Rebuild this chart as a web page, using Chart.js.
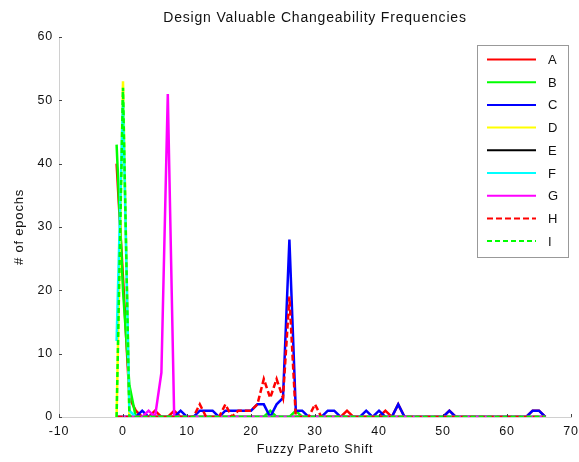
<!DOCTYPE html>
<html><head><meta charset="utf-8">
<script src="https://cdn.jsdelivr.net/npm/chart.js@4/dist/chart.umd.min.js"></script>
<style>html,body{margin:0;padding:0;background:#fff;}#wrap{width:579px;height:462px;}</style>
</head><body><div id="wrap"><canvas id="c" width="579" height="462"></canvas></div>
<script>
// x positions (Fuzzy Pareto Shift)
const xValues = [-1,0,1,2,3,4,5,6,7,8, 9,10,11,12,13,14,15,16,17,18, 19,20,21,22,23,24,25,26,27,28,
  29,30,31,32,33,34,35,36,37,38, 39,40,41,42,43,44,45,46,47,48, 49,50,51,52,53,54,55,56,57,58, 59,60,61,62,63,64,65,66];
const seriesA = [40,22,3,1,0,0,1,0,0,1, 0,0,0,0,0,0,0,0,0,0, 0,0,0,0,0,0,0,0,0,0,
  0,0,0,0,0,0,1,0,0,0, 0,0,1,0,2,0,0,0,0,0, 0,0,1,0,0,0,0,0,0,0, 0,0,0,0,0,1,1,0];
const seriesB = [43,20,5,0,0,0,0,0,0,0, 0,0,0,0,0,0,0,0,0,0, 0,0,0,0,1,0,0,0,1,0,
  0,0,0,0,0,0,0,0,0,0, 0,0,0,0,0,0,0,0,0,0, 0,0,0,0,0,0,0,0,0,0, 0,0,0,0,0,0,0,0];
const seriesC = [0,0,0,0,1,0,0,0,0,0, 1,0,0,1,1,1,0,1,1,1, 1,1,2,2,0,2,3,28,1,1,
  0,0,0,1,1,0,0,0,0,1, 0,1,0,0,2,0,0,0,0,0, 0,0,1,0,0,0,0,0,0,0, 0,0,0,0,0,1,1,0];
const seriesD = [0,53,0,0,0,0,0,0,0,0, 0,0,0,0,0,0,0,0,0,0, 0,0,0,0,0,0,0,0,0,0,
  0,0,0,0,0,0,0,0,0,0, 0,0,0,0,0,0,0,0,0,0, 0,0,0,0,0,0,0,0,0,0, 0,0,0,0,0,0,0,0];
const seriesE = [0,0,0,0,0,0,0,0,0,0, 0,0,0,0,0,0,0,0,0,0, 0,0,0,0,0,0,0,0,0,0,
  0,0,0,0,0,0,0,0,0,0, 0,0,0,0,0,0,0,0,0,0, 0,0,0,0,0,0,0,0,0,0, 0,0,0,0,0,0,0,0];
const seriesF = [12,50,1,0,0,0,0,0,0,0, 0,0,0,0,0,0,0,0,0,0, 0,0,0,0,0,0,0,0,0,0,
  0,0,0,0,0,0,0,0,0,0, 0,0,0,0,0,0,0,0,0,0, 0,0,0,0,0,0,0,0,0,0, 0,0,0,0,0,0,0,0];
const seriesG = [0,0,0,0,0,1,0,7,51,0, 0,0,0,0,0,0,0,0,0,0, 0,0,0,0,0,0,0,0,0,0,
  0,0,0,0,0,0,0,0,0,0, 0,0,0,0,0,0,0,0,0,0, 0,0,0,0,0,0,0,0,0,0, 0,0,0,0,0,0,0,0];
const seriesH = [0,0,0,0,0,0,0,0,0,0, 0,0,0,2,0,0,0,2,0,1, 1,1,2,6,3,6,3,19,0,0,
  0,2,0,0,0,0,0,0,0,0, 0,0,0,0,0,0,0,0,0,0, 0,0,0,0,0,0,0,0,0,0, 0,0,0,0,0,0,0,0];
const seriesI = [0,52,0,0,0,0,0,0,0,0, 0,0,0,0,0,0,0,0,0,0, 0,0,0,0,0,0,0,0,0,0,
  0,0,0,0,0,0,0,0,0,0, 0,0,0,0,0,0,0,0,0,0, 0,0,0,0,0,0,0,0,0,0, 0,0,0,0,0,0,0,0];
const seriesNames = ['A','B','C','D','E','F','G','H','I'];
const xTicks = [-10,0,10,20,30,40,50,60,70];
const yTicks = [0,10,20,30,40,50,60];

const FONT = "'Liberation Sans', Arial, Helvetica, sans-serif";
const allSeries = [seriesA,seriesB,seriesC,seriesD,seriesE,seriesF,seriesG,seriesH,seriesI];
const colors = ['#ff0000','#00ff00','#0000ff','#ffff00','#000000','#00ffff','#ff00ff','#ff0000','#00ff00'];
const dashes = [[],[],[],[],[],[],[],[6,3],[5,3]];

const datasets = allSeries.map((s, i) => ({
  label: seriesNames[i],
  data: s.map((v, j) => ({x: xValues[j], y: v})),
  borderColor: colors[i],
  backgroundColor: colors[i],
  borderWidth: 2.5,
  borderDash: dashes[i],
  pointRadius: 0,
  tension: 0,
  fill: false,
  order: allSeries.length - i
}));

const spacing = {
  id: 'spacing',
  beforeInit(chart) { chart.ctx.letterSpacing = '0.8px'; },
  beforeDraw(chart) { chart.ctx.letterSpacing = '0.8px'; }
};

const innerTicks = {
  id: 'innerTicks',
  afterDraw(chart) {
    const ctx = chart.ctx, xs = chart.scales.x, ys = chart.scales.y;
    const a = chart.chartArea;
    ctx.save();
    ctx.strokeStyle = '#444';
    ctx.lineWidth = 1;
    ctx.beginPath();
    yTicks.forEach(t => { const y = Math.round(ys.getPixelForValue(t)) + 0.5; ctx.moveTo(a.left, y); ctx.lineTo(a.left + 3, y); });
    xTicks.forEach(t => { const x = Math.round(xs.getPixelForValue(t)) + 0.5; ctx.moveTo(x, a.bottom); ctx.lineTo(x, a.bottom - 3); });
    ctx.stroke();
    ctx.restore();
  }
};

const legendBox = {
  id: 'legendBox',
  afterDraw(chart) {
    const ctx = chart.ctx;
    const bx = 477.5, by = 45.5, bw = 91, bh = 212;
    ctx.save();
    ctx.fillStyle = '#fff';
    ctx.fillRect(bx, by, bw, bh);
    ctx.strokeStyle = '#999';
    ctx.lineWidth = 1;
    ctx.strokeRect(bx, by, bw, bh);
    ctx.font = '13px ' + FONT;
    ctx.textBaseline = 'middle';
    ctx.textAlign = 'left';
    chart.data.datasets.forEach((ds, i) => {
      const y = 59.5 + i * 22.7;
      ctx.strokeStyle = ds.borderColor;
      ctx.lineWidth = 2;
      ctx.setLineDash(ds.borderDash || []);
      ctx.beginPath();
      ctx.moveTo(487, y); ctx.lineTo(536, y);
      ctx.stroke();
      ctx.setLineDash([]);
      ctx.fillStyle = '#111';
      ctx.fillText(ds.label, 548, y + 1);
    });
    ctx.restore();
  }
};

new Chart(document.getElementById('c'), {
  type: 'line',
  data: { datasets },
  options: {
    responsive: false,
    maintainAspectRatio: false,
    devicePixelRatio: 1,
    animation: false,
    layout: { padding: { left: 0, right: 8, top: 0, bottom: 0 } },
    plugins: {
      legend: { display: false },
      tooltip: { enabled: false },
      title: {
        display: true,
        text: 'Design Valuable Changeability Frequencies',
        color: '#111',
        font: { family: FONT, size: 14, weight: 'normal' },
        padding: { top: 10, bottom: 10.2 },
        fullSize: false
      }
    },
    scales: {
      x: {
        type: 'linear',
        min: -10, max: 70,
        afterBuildTicks: s => { s.ticks = xTicks.map(v => ({value: v})); },
        afterFit: s => { s.height = 45; s.paddingRight = 0; s.paddingLeft = 0; },
        ticks: { color: '#111', font: { family: FONT, size: 12.5 }, padding: 7, maxRotation: 0 },
        grid: { display: true, drawOnChartArea: false, drawTicks: false },
        border: { display: true, color: '#d0d0d0', width: 1 },
        title: { display: true, text: 'Fuzzy Pareto Shift', color: '#111', font: { family: FONT, size: 12.5 }, padding: { top: 0, bottom: 4.5 } }
      },
      y: {
        min: 0, max: 60,
        afterBuildTicks: s => { s.ticks = yTicks.map(v => ({value: v})); },
        afterFit: s => { s.width = 59; s.paddingTop = 0; s.paddingBottom = 0; },
        ticks: { color: '#111', font: { family: FONT, size: 12.5 }, padding: 6 },
        grid: { display: true, drawOnChartArea: false, drawTicks: false },
        border: { display: true, color: '#d0d0d0', width: 1 },
        title: { display: true, text: '# of epochs', color: '#111', font: { family: FONT, size: 13 }, padding: { top: 12, bottom: 0 } }
      }
    }
  },
  plugins: [spacing, innerTicks, legendBox]
});
</script></body></html>
